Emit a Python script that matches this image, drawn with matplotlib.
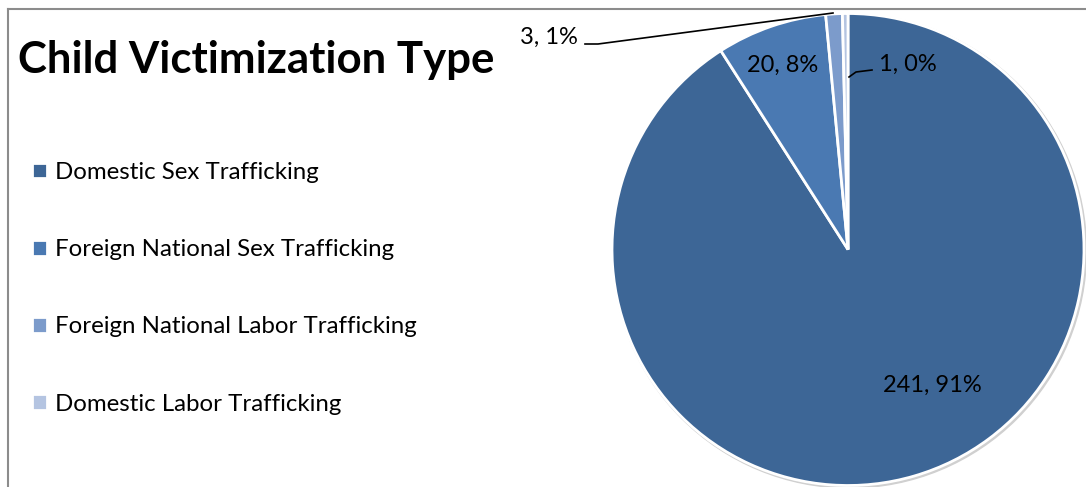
import numpy as np
import matplotlib.pyplot as plt
from matplotlib.lines import Line2D

# data
categories = ["Domestic Sex Trafficking", "Foreign National Sex Trafficking",
              "Foreign National Labor Trafficking", "Domestic Labor Trafficking"]
counts = [241, 20, 3, 1]
colors = ["#3D6696", "#4A79B2", "#7C9BCB", "#B4C4E1"]

plt.rcParams['font.family'] = ['Lato', 'DejaVu Sans']

W, H = 1086, 487
fig = plt.figure(figsize=(W / 100, H / 100), dpi=100)
ax = fig.add_axes([0, 0, 1, 1])

cx, cy, r = 848, H - 249.5, 236

# faint shadow behind the pie
ax.add_patch(plt.Circle((cx + 1.5, cy - 1.5), r + 1, color="#d0d0d0", zorder=0))
wedges, _ = ax.pie(counts, colors=colors, startangle=90, counterclock=False,
                   center=(cx, cy), radius=r, frame=True,
                   wedgeprops=dict(edgecolor="white", linewidth=2))

ax.set_xlim(0, W)
ax.set_ylim(0, H)
ax.set_aspect("equal")
ax.axis("off")

# data labels
total = sum(counts)
texts = ["%d, %d%%" % (v, round(100 * v / total)) for v in counts]
label_pos = [(932, 385), (783, 65), (549, 37), (908, 64)]
for t, (x, y) in zip(texts, label_pos):
    ax.text(x, H - y, t, ha="center", va="center", fontsize=17, color="black")

# leader lines for the small slices
ax.plot([585, 598, 833], [H - 44, H - 44, H - 13], color="black", lw=1.2)
ax.plot([849, 856, 872], [H - 77, H - 72, H - 70], color="black", lw=1.2)

# title
ax.text(18, H - 60, "Child Victimization Type", fontsize=31.5, fontweight="bold",
        ha="left", va="center")

# legend
leg = ax.legend(wedges, categories, loc="upper left", bbox_to_anchor=(20 / W, 1 - 150 / H),
                frameon=False, fontsize=17.3, handlelength=0.62, handleheight=0.62,
                handletextpad=0.32, labelspacing=2.34, borderpad=0)

# chart border (top and left visible)
fig.add_artist(Line2D([8 / W, 1], [1 - 9 / H, 1 - 9 / H], color="#8c8c8c", lw=1.5))
fig.add_artist(Line2D([8 / W, 8 / W], [0, 1 - 9 / H], color="#8c8c8c", lw=1.5))

fig.savefig("out.png", dpi=100)
